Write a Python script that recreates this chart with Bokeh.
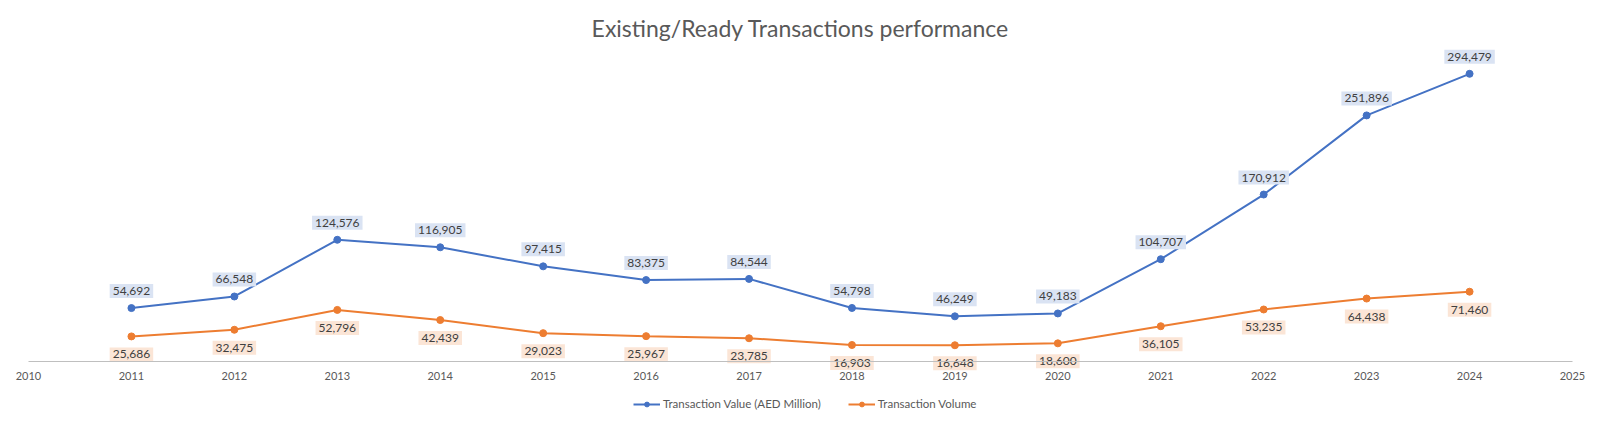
from bokeh.plotting import figure
from bokeh.models import (ColumnDataSource, Range1d, FixedTicker, Legend, LegendItem, Label)
from bokeh.core.properties import value
from bokeh.embed import file_html
from bokeh.resources import INLINE

# ---- data ----
years = [2011, 2012, 2013, 2014, 2015, 2016, 2017, 2018, 2019, 2020, 2021, 2022, 2023, 2024]
transaction_value = [54692, 66548, 124576, 116905, 97415, 83375, 84544, 54798, 46249, 49183,
                     104707, 170912, 251896, 294479]
transaction_volume = [25686, 32475, 52796, 42439, 29023, 25967, 23785, 16903, 16648, 18600,
                      36105, 53235, 64438, 71460]
tick_years = list(range(2010, 2026))
title_text = "Existing/Ready Transactions performance"
series_names = ["Transaction Value (AED Million)", "Transaction Volume"]

BLUE = "#4472C4"
ORANGE = "#ED7D31"
FONT = "Lato"

src_v = ColumnDataSource(dict(x=years, y=transaction_value,
                              lbl=[f"{v:,}" for v in transaction_value]))
src_q = ColumnDataSource(dict(x=years, y=transaction_volume,
                              lbl=[f"{v:,}" for v in transaction_volume]))

# 2010 sits 28px from the left edge, 2025 28px from the right edge (1544px for 15 years)
px_per_year = 1544 / 15
pad_years = 28 / px_per_year

p = figure(frame_width=1600, frame_height=425,
           min_border_left=0, min_border_right=0, min_border_top=0, min_border_bottom=0,
           x_range=Range1d(tick_years[0] - pad_years, tick_years[-1] + pad_years),
           y_range=Range1d(-65510, 369520),
           y_axis_location=None, output_backend="svg", toolbar_location=None,
           background_fill_color="white", border_fill_color="white")
p.outline_line_color = None
p.xgrid.visible = False
p.ygrid.visible = False

ax = p.xaxis[0]
ax.fixed_location = 0
ax.bounds = (tick_years[0], tick_years[-1])
ax.ticker = FixedTicker(ticks=tick_years)
ax.axis_line_color = "#BFBFBF"
ax.axis_line_width = 1
ax.major_tick_line_color = None
ax.minor_tick_line_color = None
ax.major_tick_out = 0
ax.major_tick_in = 0
ax.major_label_standoff = 10
ax.major_label_text_font = FONT
ax.major_label_text_font_size = "11px"
ax.major_label_text_color = "#595959"

l1 = p.line("x", "y", source=src_v, line_color=BLUE, line_width=2)
s1 = p.scatter("x", "y", source=src_v, size=7, fill_color=BLUE, line_color=BLUE)
l2 = p.line("x", "y", source=src_q, line_color=ORANGE, line_width=2)
s2 = p.scatter("x", "y", source=src_q, size=7, fill_color=ORANGE, line_color=ORANGE)

p.text("x", "y", text="lbl", source=src_v, y_offset=-17,
       text_align="center", text_baseline="middle",
       text_font=value(FONT), text_font_size="12px", text_color="#404040",
       background_fill_color="#DAE3F3", padding=3)
p.text("x", "y", text="lbl", source=src_q, y_offset=18,
       text_align="center", text_baseline="middle",
       text_font=value(FONT), text_font_size="12px", text_color="#404040",
       background_fill_color="#FBE5D6", padding=3)

p.add_layout(Label(x=800, y=398, x_units="screen", y_units="screen", text=title_text,
                   text_align="center", text_baseline="middle", text_font=FONT,
                   text_font_size="23px", text_color="#595959"))

legend = Legend(items=[LegendItem(label=series_names[0], renderers=[l1, s1]),
                       LegendItem(label=series_names[1], renderers=[l2, s2])],
                orientation="horizontal", location=(633, 15),
                label_text_font=FONT, label_text_font_size="11.5px",
                label_text_color="#595959", glyph_width=27, glyph_height=12,
                label_height=12, label_standoff=3, spacing=27, padding=0, margin=0,
                border_line_color=None, background_fill_alpha=0)
p.add_layout(legend, "center")

open("out.html", "w").write(file_html(p, INLINE))
